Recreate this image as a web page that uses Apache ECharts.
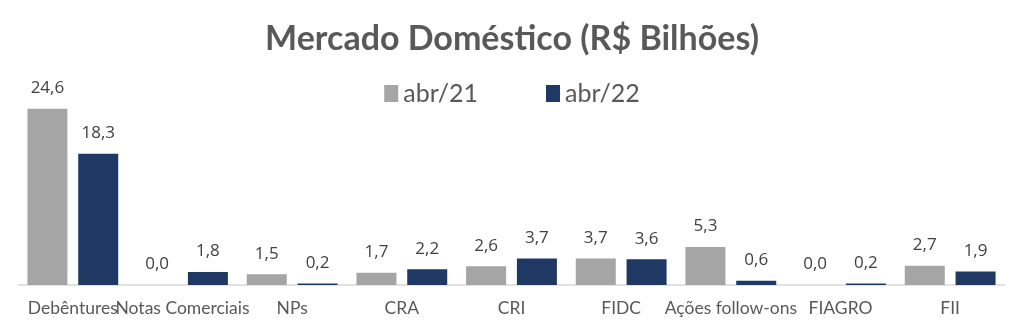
<!DOCTYPE html>
<html>
<head>
<meta charset="utf-8">
<script src="https://cdn.jsdelivr.net/npm/echarts@6/dist/echarts.min.js"></script>
<style>html,body{margin:0;padding:0;background:#fff}#c{width:1024px;height:334px}</style>
</head>
<body>
<div id="c"></div>
<script>
const categories = ['Debêntures', 'Notas Comerciais', 'NPs', 'CRA', 'CRI', 'FIDC', 'Ações follow-ons', 'FIAGRO', 'FII'];
const abr21 = [24.6, 0.0, 1.5, 1.7, 2.6, 3.7, 5.3, 0.0, 2.7];
const abr22 = [18.3, 1.8, 0.2, 2.2, 3.7, 3.6, 0.6, 0.2, 1.9];
const seriesNames = ['abr/21', 'abr/22'];

const chart = echarts.init(document.getElementById('c'));
const labelCfg = {
  show: true, position: 'top', distance: 12,
  color: '#404040', fontSize: 17, fontFamily: 'Open Sans',
  formatter: p => p.value.toFixed(1).replace('.', ',')
};
chart.setOption({
  animation: false,
  title: {
    text: 'Mercado Doméstico (R$ Bilhões)', left: 'center', top: 17,
    textStyle: { fontSize: 34, fontWeight: 'bold', color: '#595959', fontFamily: 'Lato' }
  },
  legend: {
    top: 76, left: 'center', itemWidth: 14, itemHeight: 17, itemGap: 68,
    icon: 'rect',
    textStyle: { fontSize: 25, color: '#595959', fontFamily: 'Lato' },
    data: seriesNames
  },
  grid: { left: 18, right: 19, top: 70, bottom: 49 },
  xAxis: {
    type: 'category', data: categories,
    axisTick: { show: false },
    axisLine: { lineStyle: { color: '#D9D9D9', width: 1.5 } },
    axisLabel: { interval: 0, color: '#595959', fontSize: 17.5, fontFamily: 'Lato', margin: 14 }
  },
  yAxis: { type: 'value', min: 0, max: 30, show: false, splitLine: { show: false } },
  series: [
    { name: seriesNames[0], type: 'bar', data: abr21, barWidth: 40, barGap: '27%',
      itemStyle: { color: '#A5A5A5' }, label: labelCfg },
    { name: seriesNames[1], type: 'bar', data: abr22, barWidth: 40,
      itemStyle: { color: '#203864' }, label: labelCfg }
  ]
});
</script>
</body>
</html>
